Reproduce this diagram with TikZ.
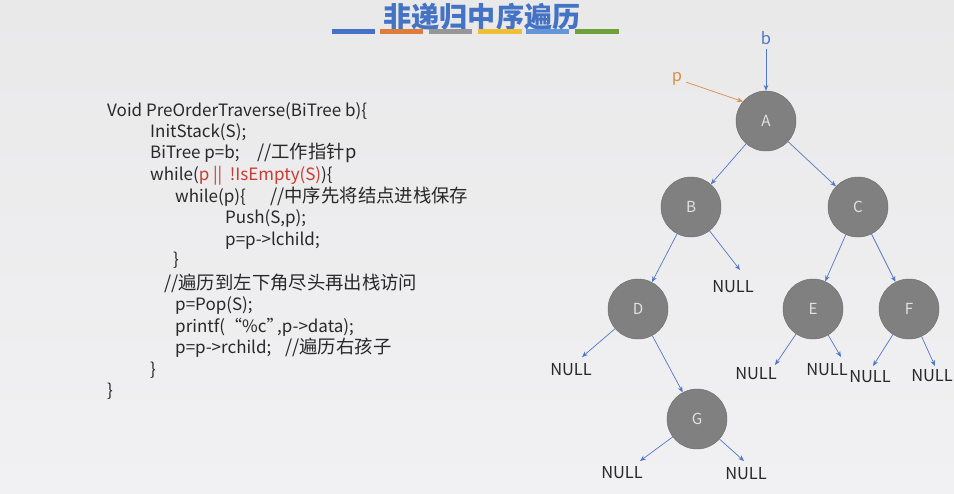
\documentclass[tikz,border=0pt]{standalone}
\usepackage{fontspec}
\setmainfont{Noto Sans CJK SC}
\newfontfamily\zh{Noto Sans CJK SC}[Scale=1.08]
\usepackage{tikz}
\usetikzlibrary{arrows.meta, positioning}
\definecolor{bgtop}{RGB}{233, 233, 234}
\definecolor{bgbottom}{RGB}{241, 240, 242}
\definecolor{titleblue}{RGB}{68, 114, 196}
\definecolor{edgeblue}{RGB}{80, 120, 200}
\definecolor{pointorange}{RGB}{222, 140, 70}
\definecolor{nodegray}{RGB}{128, 128, 128}
\definecolor{nodeedge}{RGB}{110, 110, 110}
\definecolor{nodetext}{RGB}{225, 225, 225}
\definecolor{codetext}{RGB}{40, 40, 40}
\definecolor{codered}{RGB}{200, 60, 50}
\definecolor{barorange}{RGB}{220, 125, 60}
\definecolor{bargray}{RGB}{150, 150, 150}
\definecolor{baryellow}{RGB}{240, 190, 50}
\definecolor{barlightblue}{RGB}{100, 150, 215}
\definecolor{bargreen}{RGB}{110, 160, 60}

\begin{document}
\begin{tikzpicture}[
    x=0.03cm, y=-0.03cm,
    tnode/.style={circle, fill=nodegray, draw=nodeedge, line width=0.4pt,
                  minimum size=1.8cm, inner sep=0pt, text=nodetext,
                  font=\fontsize{13}{13}\selectfont},
    nulltxt/.style={inner sep=1pt, text=codetext, font=\fontsize{14}{14}\selectfont},
    codeline/.style={anchor=base west, inner sep=0pt, text=codetext,
                     font=\fontsize{14.5}{17}\selectfont},
    edge/.style={-{Stealth[length=5pt,width=4pt]}, line width=0.6pt, draw=edgeblue},
    bar/.style={line width=0.15cm},
]
    \shade[top color=bgtop, bottom color=bgbottom] (0,0) rectangle (954,493);
    \useasboundingbox (0,0) rectangle (954,493);

    % title and coloured bars
    \node[text=titleblue, font=\fontsize{24}{24}\selectfont\bfseries] (title) at (482,17) {非递归中序遍历};
    \draw[bar, titleblue]    (332,31) -- (375,31);
    \draw[bar, barorange]    (380,31) -- (423,31);
    \draw[bar, bargray]      (429,31) -- (472,31);
    \draw[bar, baryellow]    (478,31) -- (522,31);
    \draw[bar, barlightblue] (526,31) -- (569,31);
    \draw[bar, bargreen]     (575,31) -- (619,31);

    % code
    \node[codeline] (l1)  at (107,116) {Void PreOrderTraverse(BiTree b)\{};
    \node[codeline] (l2)  at (150,137) {InitStack(S);};
    \node[codeline] (l3)  at (150,158) {\makebox[3.21cm][l]{BiTree p=b;}{\zh //工作指针p}};
    \node[codeline] (l4)  at (150,180) {while(\textcolor{codered}{p ||\hspace{0.45em}!IsEmpty(S)})\{};
    \node[codeline] (l5)  at (175,202) {\makebox[2.85cm][l]{while(p)\{}{\zh //中序先将结点进栈保存}};
    \node[codeline] (l6)  at (225,223) {Push(S,p);};
    \node[codeline] (l7)  at (225,245) {p=p->lchild;};
    \node[codeline] (l8)  at (173,265) {\}};
    \node[codeline] (l9)  at (164,289) {{\zh //遍历到左下角尽头再出栈访问}};
    \node[codeline] (l10) at (175,310) {p=Pop(S);};
    \node[codeline] (l11) at (175,332) {\makebox[1.5cm][l]{printf(}\makebox[1.56cm][l]{“\%c”},p->data);};
    \node[codeline] (l12) at (175,353) {\makebox[3.3cm][l]{p=p->rchild;}{\zh //遍历右孩子}};
    \node[codeline] (l13) at (150,375) {\}};
    \node[codeline] (l14) at (107,396) {\}};

    % tree
    \node[tnode] (A) at (766,121) {A};
    \node[tnode] (B) at (691,207) {B};
    \node[tnode] (C) at (858,207) {C};
    \node[tnode] (D) at (638,309) {D};
    \node[tnode] (E) at (813,309) {E};
    \node[tnode] (F) at (909,309) {F};
    \node[tnode] (G) at (697,419) {G};

    \node[nulltxt] (nB)  at (733,287) {NULL};
    \node[nulltxt] (nD)  at (571,370) {NULL};
    \node[nulltxt] (nE1) at (756,374) {NULL};
    \node[nulltxt] (nE2) at (827,370) {NULL};
    \node[nulltxt] (nF1) at (870,377) {NULL};
    \node[nulltxt] (nF2) at (932,376) {NULL};
    \node[nulltxt] (nG1) at (622,473) {NULL};
    \node[nulltxt] (nG2) at (746,474) {NULL};

    % arrow tips above the NULL leaves
    \coordinate (tB)  at (740,270);
    \coordinate (tD)  at (582,357);
    \coordinate (tE1) at (775,365);
    \coordinate (tE2) at (841,357);
    \coordinate (tF1) at (873,366);
    \coordinate (tF2) at (935,366);
    \coordinate (tG1) at (640,461);
    \coordinate (tG2) at (744,461);

    \node[text=edgeblue, font=\fontsize{14}{14}\selectfont] (b) at (766,38) {b};
    \node[text=pointorange, font=\fontsize{14}{14}\selectfont] (p) at (677,79) {p};

    \draw[edge] (b) -- (A);
    \draw[edge, draw=pointorange] (p) -- (A.140);
    \draw[edge] (A) -- (B);
    \draw[edge] (A) -- (C);
    \draw[edge] (B) -- (D);
    \draw[edge] (B) -- (tB);
    \draw[edge] (C) -- (E);
    \draw[edge] (C) -- (F);
    \draw[edge] (D) -- (tD);
    \draw[edge] (D) -- (G);
    \draw[edge] (E) -- (tE1);
    \draw[edge] (E) -- (tE2);
    \draw[edge] (F) -- (tF1);
    \draw[edge] (F) -- (tF2);
    \draw[edge] (G) -- (tG1);
    \draw[edge] (G) -- (tG2);
\end{tikzpicture}
\end{document}
